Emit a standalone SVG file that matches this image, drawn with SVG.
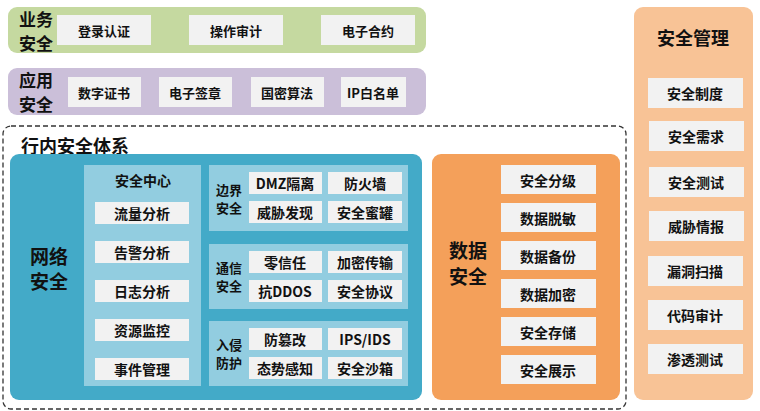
<svg xmlns="http://www.w3.org/2000/svg" width="760" height="411" viewBox="0 0 760 411">
<style>
text{font-family:"Noto Sans CJK SC","Noto Sans",sans-serif;font-weight:bold;text-anchor:middle;dominant-baseline:central;fill:#111}
.it{fill:#f2f2f2}
.s{font-size:13px}
.m{font-size:14px}
.l{font-size:18px}
.t{font-size:17px}
.n{font-size:13px}
</style>
<rect width="760" height="411" fill="#fff"/>
<g id="biz">
<rect x="8" y="7" width="418" height="46" rx="9" fill="#c5d9a0"/>
<text class="t" x="36" y="18">业务</text><text class="t" x="36" y="42">安全</text>
<rect class="it" x="57" y="15" width="94" height="30"/><text class="s" x="104" y="30">登录认证</text>
<rect class="it" x="189" y="15" width="94" height="30"/><text class="s" x="236" y="30">操作审计</text>
<rect class="it" x="321" y="15" width="94" height="30"/><text class="s" x="368" y="30">电子合约</text>
</g>
<g id="app">
<rect x="8" y="68" width="418" height="47" rx="9" fill="#cbbfd9"/>
<text class="t" x="36" y="79">应用</text><text class="t" x="36" y="103">安全</text>
<rect class="it" x="68" y="77" width="73" height="30"/><text class="s" x="104" y="92">数字证书</text>
<rect class="it" x="159" y="77" width="73" height="30"/><text class="s" x="195" y="92">电子签章</text>
<rect class="it" x="251" y="77" width="73" height="30"/><text class="s" x="287" y="92">国密算法</text>
<rect class="it" x="341" y="77" width="65" height="30"/><text class="s" x="373" y="92">IP白名单</text>
</g>
<g id="mgmt">
<rect x="634" y="7" width="119" height="393" rx="9" fill="#f8c396"/>
<text class="l" x="693" y="37">安全管理</text>
<rect class="it" x="648" y="78" width="95" height="30"/><text class="m" x="695" y="93">安全制度</text>
<rect class="it" x="649" y="121" width="95" height="30"/><text class="m" x="696" y="136">安全需求</text>
<rect class="it" x="649" y="167" width="95" height="30"/><text class="m" x="696" y="182">安全测试</text>
<rect class="it" x="649" y="211" width="95" height="30"/><text class="m" x="696" y="226">威胁情报</text>
<rect class="it" x="648" y="256" width="95" height="30"/><text class="m" x="695" y="271">漏洞扫描</text>
<rect class="it" x="648" y="300" width="95" height="30"/><text class="m" x="695" y="315">代码审计</text>
<rect class="it" x="648" y="344" width="95" height="30"/><text class="m" x="695" y="359">渗透测试</text>
</g>
<g id="bank">
<rect x="3" y="126" width="623" height="283" rx="8" fill="none" stroke="#333" stroke-width="1.3" stroke-dasharray="5,3"/>
<text class="l" x="75" y="145" font-weight="normal">行内安全体系</text>
</g>
<g id="net">
<rect x="10" y="154" width="412" height="246" rx="9" fill="#43aac8"/>
<text x="49" y="255" style="font-size:19px">网络</text><text x="49" y="280" style="font-size:19px">安全</text>
<rect x="84" y="165" width="117" height="221" fill="#92cde0"/>
<text class="m" x="143" y="180">安全中心</text>
<rect class="it" x="95" y="202" width="94" height="22"/><text class="m" x="142" y="213">流量分析</text>
<rect class="it" x="95" y="241" width="94" height="22"/><text class="m" x="142" y="252">告警分析</text>
<rect class="it" x="95" y="280" width="94" height="22"/><text class="m" x="142" y="291">日志分析</text>
<rect class="it" x="95" y="319" width="94" height="22"/><text class="m" x="142" y="330">资源监控</text>
<rect class="it" x="95" y="358" width="94" height="22"/><text class="m" x="142" y="369">事件管理</text>
<rect x="209" y="165" width="199" height="66" fill="#92cde0"/>
<text class="n" x="229" y="189">边界</text><text class="n" x="229" y="207">安全</text>
<rect class="it" x="249" y="172" width="73" height="22"/><text class="m" x="285" y="183">DMZ隔离</text>
<rect class="it" x="328" y="172" width="74" height="22"/><text class="m" x="365" y="183">防火墙</text>
<rect class="it" x="249" y="201" width="73" height="22"/><text class="m" x="285" y="212">威胁发现</text>
<rect class="it" x="328" y="201" width="74" height="22"/><text class="m" x="365" y="212">安全蜜罐</text>
<rect x="209" y="244" width="199" height="65" fill="#92cde0"/>
<text class="n" x="229" y="267">通信</text><text class="n" x="229" y="285">安全</text>
<rect class="it" x="249" y="251" width="73" height="22"/><text class="m" x="285" y="262">零信任</text>
<rect class="it" x="328" y="251" width="74" height="22"/><text class="m" x="365" y="262">加密传输</text>
<rect class="it" x="249" y="280" width="73" height="22"/><text class="m" x="285" y="291">抗DDOS</text>
<rect class="it" x="328" y="280" width="74" height="22"/><text class="m" x="365" y="291">安全协议</text>
<rect x="209" y="321" width="199" height="65" fill="#92cde0"/>
<text class="n" x="229" y="344">入侵</text><text class="n" x="229" y="362">防护</text>
<rect class="it" x="249" y="328" width="73" height="22"/><text class="m" x="285" y="339">防篡改</text>
<rect class="it" x="328" y="328" width="74" height="22"/><text class="m" x="365" y="339">IPS/IDS</text>
<rect class="it" x="249" y="357" width="73" height="22"/><text class="m" x="285" y="368">态势感知</text>
<rect class="it" x="328" y="357" width="74" height="22"/><text class="m" x="365" y="368">安全沙箱</text>
</g>
<g id="data">
<rect x="432" y="154" width="188" height="246" rx="9" fill="#f4a05a"/>
<text x="468" y="249" style="font-size:19px">数据</text><text x="468" y="275" style="font-size:19px">安全</text>
<rect class="it" x="501" y="165" width="95" height="29"/><text class="m" x="548" y="180">安全分级</text>
<rect class="it" x="501" y="203" width="95" height="29"/><text class="m" x="548" y="218">数据脱敏</text>
<rect class="it" x="501" y="241" width="95" height="29"/><text class="m" x="548" y="256">数据备份</text>
<rect class="it" x="501" y="279" width="95" height="29"/><text class="m" x="548" y="294">数据加密</text>
<rect class="it" x="501" y="317" width="95" height="29"/><text class="m" x="548" y="332">安全存储</text>
<rect class="it" x="501" y="355" width="95" height="29"/><text class="m" x="548" y="370">安全展示</text>
</g>
<g id="connectors"/>
</svg>
